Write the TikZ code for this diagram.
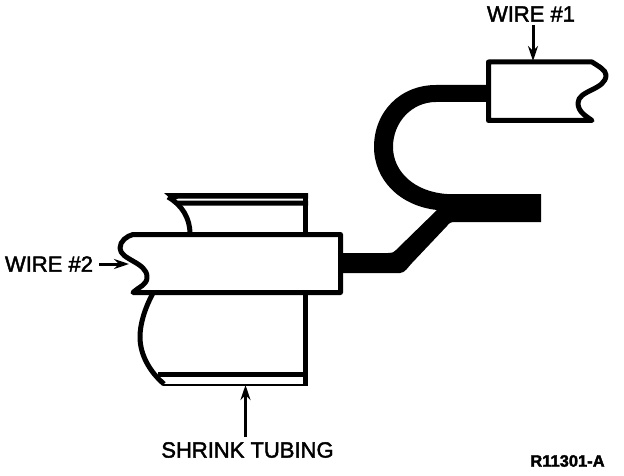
\documentclass[tikz,border=0pt]{standalone}
\usepackage{fontspec}
\setmainfont{Liberation Sans}[FakeBold=2]
\usetikzlibrary{arrows.meta}

\tikzset{
  label/.style={inner sep=0pt, font=\fontsize{22}{22}\selectfont},
  outline/.style={draw=black, line width=5pt, line join=round},
  thinline/.style={draw=black, line width=2.5pt},
  lead/.style={draw=black, line width=3pt, -{Stealth[length=15pt,width=10pt]}},
}

\begin{document}
\begin{tikzpicture}[x=1pt,y=-1pt]
\useasboundingbox (0,0) rectangle (624,476);

% tubing
\fill[black] (164,193) -- (308,193) -- (308,198.5) -- (178,198.5) -- (175,200) -- (172,200) -- cycle;
\fill[black] (175,200.5) -- (308,200.5) -- (308,205.5) -- (181,205.5) -- cycle;
\draw[outline] (168,197) .. controls (182,205) and (190,218) .. (190,234);
\draw[outline] (305.5,193) -- (305.5,234);
\draw[outline] (153,293) .. controls (144,310) and (140,325) .. (140,337)
  .. controls (140,355) and (150,372) .. (164,384);
\draw[outline] (158,374.5) -- (305.5,374.5);
\draw[thinline] (163,385) -- (308,385);
\draw[outline] (305.5,293) -- (305.5,386);

% black wire
\fill[black] (488,85) -- (436,85) .. controls (400,85) and (374,112) .. (374,147)
  .. controls (374,180) and (400,206) .. (437,210)
  -- (396,250) .. controls (393,253) and (391,253) .. (388,253)
  -- (340,253) -- (340,273) -- (400,273)
  .. controls (405,273) and (408,267) .. (412,263)
  -- (447,226) .. controls (449,223) and (451,222) .. (455,222)
  -- (541,222) -- (541,194) -- (447,194)
  .. controls (415,192) and (393,172) .. (393,147)
  .. controls (393,122) and (412,102) .. (436,102) -- (488,102) -- cycle;

% wire ends
\draw[outline, fill=white] (592,62) -- (488.5,62) -- (488.5,120.5) -- (592,120.5)
  .. controls (586,116) and (578,112) .. (578,103)
  .. controls (578,90) and (606,90) .. (606,75)
  .. controls (606,70) and (598,66) .. (592,62) -- cycle;
\draw[outline, fill=white] (133,234.5) -- (340.5,234.5) -- (340.5,292.5) -- (133,292.5)
  .. controls (140,286) and (147,285) .. (147,277)
  .. controls (147,262) and (120,260) .. (120,248)
  .. controls (120,241) and (127,236) .. (133,234.5) -- cycle;

% labels
\node[label] (wireone) at (531,14) {WIRE \#1};
\node[label] (wiretwo) at (49,264) {WIRE \#2};
\node[label] (tubing) at (247.5,450) {SHRINK TUBING};
\node[inner sep=0pt, font=\bfseries\fontsize{16.5}{16.5}\selectfont] (partno) at (567.5,461) {R11301-A};

\coordinate (wireonetip) at (533,61);
\coordinate (wiretwotip) at (129,264);
\coordinate (tubingtip) at (245.5,385);

\draw[lead, shorten <=3pt] (wireone.south -| wireonetip) -- (wireonetip);
\draw[lead, shorten <=6pt] (wiretwo) -- (wiretwotip);
\draw[lead, shorten <=5pt] (tubing.north -| tubingtip) -- (tubingtip);

\end{tikzpicture}
\end{document}
